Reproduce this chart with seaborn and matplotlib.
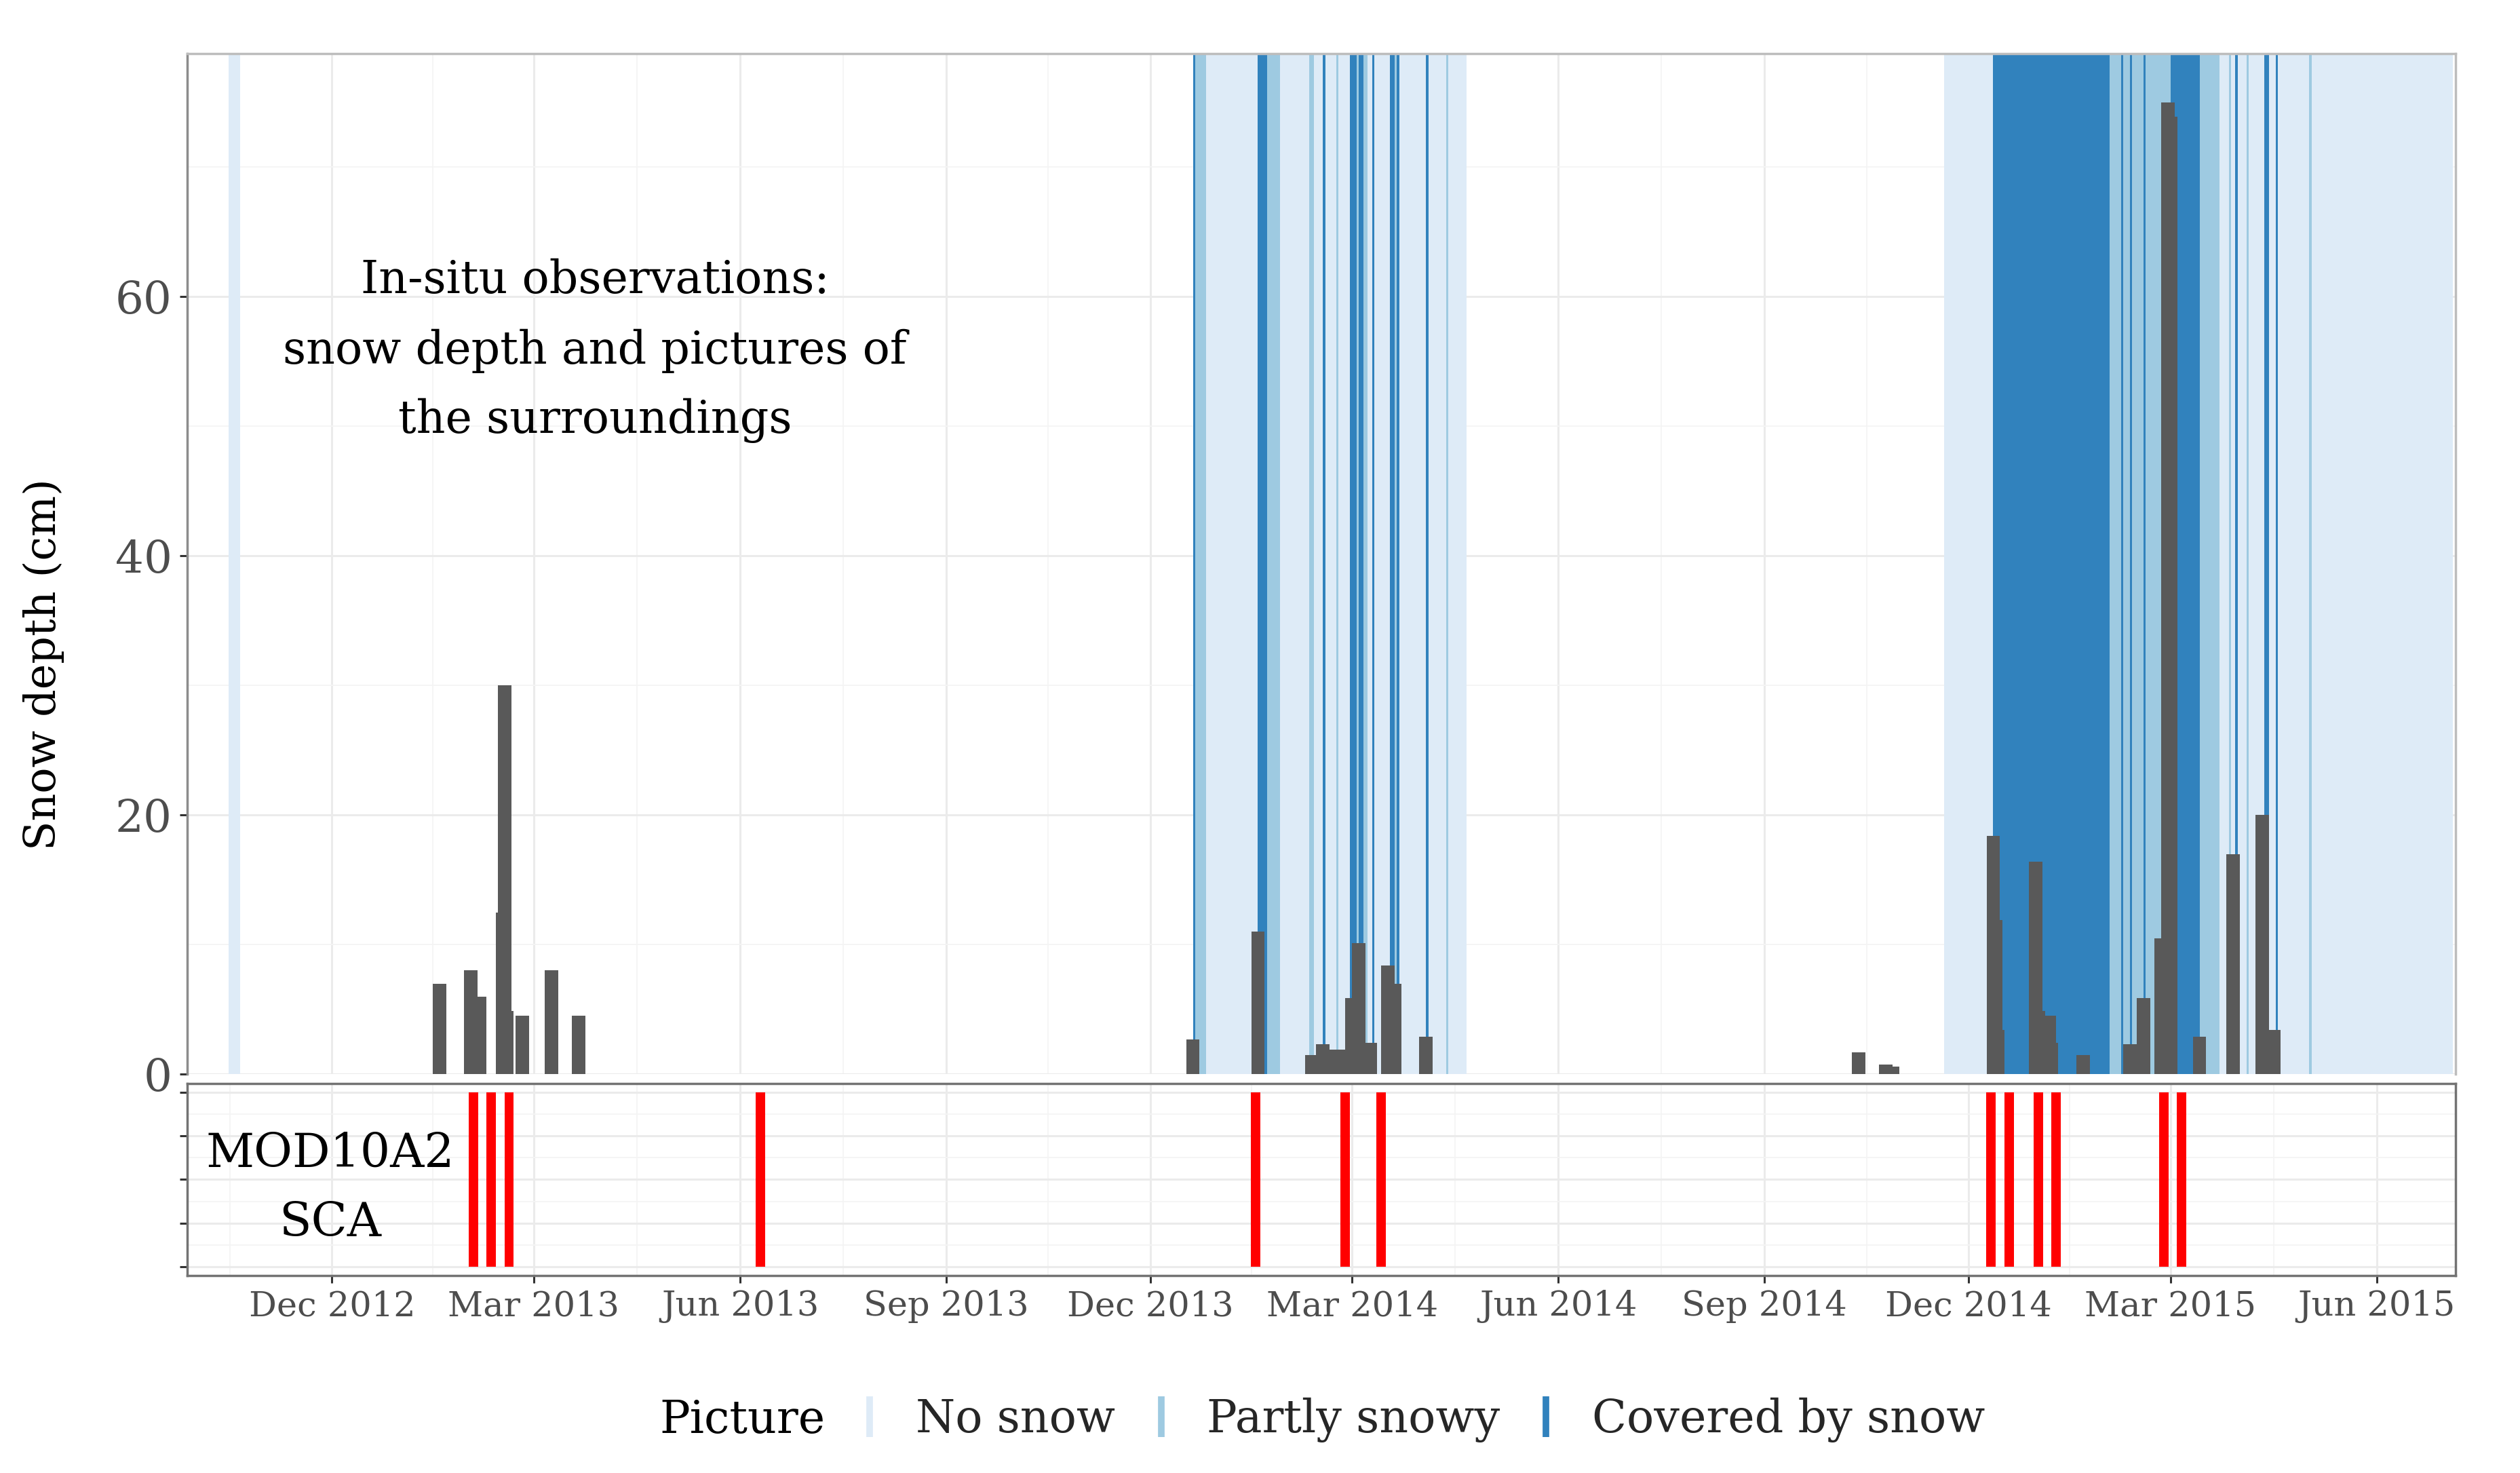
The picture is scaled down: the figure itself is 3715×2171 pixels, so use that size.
import numpy as np
import pandas as pd
import matplotlib
matplotlib.use("Agg")
import matplotlib.pyplot as plt
import matplotlib.dates as mdates
from matplotlib.lines import Line2D
from matplotlib.ticker import FixedLocator
import seaborn as sns

# ---------------- data ----------------
depth_dates = ["2013-01-18", "2013-02-01", "2013-02-05", "2013-02-15", "2013-02-16", "2013-02-17",
               "2013-02-24", "2013-03-09", "2013-03-21",
               "2013-12-20", "2014-01-18", "2014-02-11", "2014-02-16", "2014-02-21", "2014-02-23",
               "2014-03-01", "2014-03-04", "2014-03-09", "2014-03-17", "2014-03-20", "2014-04-03",
               "2014-10-13", "2014-10-25", "2014-10-28",
               "2014-12-12", "2014-12-13", "2014-12-14", "2014-12-31", "2015-01-01", "2015-01-06",
               "2015-01-07", "2015-01-21", "2015-02-11", "2015-02-17", "2015-02-25", "2015-02-28",
               "2015-03-01", "2015-03-14", "2015-03-29", "2015-04-11", "2015-04-16"]
depth_cm = [7, 8, 6, 12.5, 30, 4.9,
            4.5, 8, 4.5,
            2.7, 11, 1.5, 2.3, 1.9, 1.9,
            5.9, 10.1, 2.4, 8.4, 7, 2.9,
            1.7, 0.75, 0.6,
            18.4, 11.9, 3.4, 16.4, 4.9, 4.5,
            2.4, 1.5, 2.3, 5.9, 10.5, 75,
            73.9, 2.9, 17, 20, 3.4]

nosnow_start = ["2012-10-16", "2013-12-20", "2014-11-20"]
nosnow_end = ["2012-10-21", "2014-04-21", "2015-07-05"]

partly_start = ["2013-12-21", "2014-01-22", "2014-02-10", "2014-02-22", "2014-03-03", "2014-03-06",
                "2014-03-20", "2014-04-12", "2015-02-02", "2015-03-27", "2015-04-04", "2015-05-02"]
partly_end = ["2013-12-26", "2014-01-28", "2014-02-12", "2014-02-23", "2014-03-04", "2014-03-08",
              "2014-03-21", "2014-04-13", "2015-03-23", "2015-03-28", "2015-04-05", "2015-05-03"]

covered_start = ["2013-12-20", "2014-01-18", "2014-02-16", "2014-02-28", "2014-03-04", "2014-03-10",
                 "2014-03-18", "2014-03-21", "2014-04-03", "2014-12-12", "2015-02-07", "2015-02-11",
                 "2015-02-17", "2015-03-01", "2015-03-30", "2015-04-12", "2015-04-17"]
covered_end = ["2013-12-21", "2014-01-22", "2014-02-17", "2014-03-03", "2014-03-06", "2014-03-11",
               "2014-03-20", "2014-03-22", "2014-04-04", "2015-02-02", "2015-02-08", "2015-02-12",
               "2015-02-18", "2015-03-14", "2015-03-31", "2015-04-14", "2015-04-18"]

modis_dates = ["2013-02-02", "2013-02-10", "2013-02-18", "2013-06-10", "2014-01-17", "2014-02-26",
               "2014-03-14", "2014-12-11", "2014-12-19", "2015-01-01", "2015-01-09", "2015-02-26",
               "2015-03-06"]

x_tick_dates = ["2012-12-01", "2013-03-01", "2013-06-01", "2013-09-01", "2013-12-01", "2014-03-01",
                "2014-06-01", "2014-09-01", "2014-12-01", "2015-03-01", "2015-06-01"]
x_tick_labels = ["Dec 2012", "Mar 2013", "Jun 2013", "Sep 2013", "Dec 2013", "Mar 2014",
                 "Jun 2014", "Sep 2014", "Dec 2014", "Mar 2015", "Jun 2015"]
x_limits = ["2012-09-27 10:00", "2015-07-06 05:00"]
y_ticks = [0, 20, 40, 60]
y_minor = [10, 30, 50, 70]

categories = ["No snow", "Partly snowy", "Covered by snow"]
cat_colors = ["#deebf7", "#9ecae1", "#3182bd"]

BAR_WIDTH_DAYS = 6
MODIS_WIDTH_DAYS = 4.2


def dnum(lst):
    return mdates.date2num(pd.to_datetime(lst).values)


# ---------------- style ----------------
sns.set_theme(style="whitegrid")
plt.rcParams["font.family"] = ["DejaVu Serif"]

fig = plt.figure(figsize=(37.16, 21.71), dpi=100)
ax = fig.add_axes([0.07427, 0.2707, 0.8999, 0.6929])
ax2 = fig.add_axes([0.07427, 0.1340, 0.8999, 0.1305])

# picture classification spans
for starts, ends, col in [(nosnow_start, nosnow_end, cat_colors[0]),
                          (partly_start, partly_end, cat_colors[1]),
                          (covered_start, covered_end, cat_colors[2])]:
    for s, e in zip(dnum(starts), dnum(ends)):
        ax.axvspan(s, e, color=col, lw=0, zorder=1)

# snow depth bars
df = pd.DataFrame({"date": dnum(depth_dates), "depth": depth_cm})
sns.barplot(data=df, x="date", y="depth", native_scale=True, orient="x",
            width=BAR_WIDTH_DAYS, color="#595959", saturation=1, errorbar=None,
            linewidth=0, ax=ax, zorder=3)
ax.set_xlabel("")
ax.set_ylabel("")

# MODIS snow cover lines
ax2.bar(dnum(modis_dates), height=1, width=MODIS_WIDTH_DAYS, bottom=0,
        color="#ff0000", lw=0, zorder=3)

# ---------------- axes ----------------
xl = dnum(x_limits)
major_x = dnum(x_tick_dates)
ext = dnum(["2012-09-01"] + x_tick_dates + ["2015-09-01"])
minor_x = (ext[:-1] + ext[1:]) / 2

for a in (ax, ax2):
    a.set_xlim(xl[0], xl[1])
    a.set_xticks(major_x)
    a.xaxis.set_minor_locator(FixedLocator(minor_x))
    a.set_axisbelow(True)
    a.grid(True, which="major", color="#ebebeb", lw=2.2)
    a.grid(True, which="minor", color="#f4f4f4", lw=1.3)
    a.tick_params(which="minor", length=0)

ax.set_ylim(0, 78.75)
ax.set_yticks(y_ticks)
ax.yaxis.set_minor_locator(FixedLocator(y_minor))
ax.set_yticklabels([str(v) for v in y_ticks])
ax.tick_params(axis="y", which="major", left=True, length=8, width=2.2, color="#333333",
               labelsize=47.5, labelcolor="#4d4d4d", pad=8)
ax.tick_params(axis="x", which="both", length=0, labelbottom=False)

ax2.set_ylim(-0.05, 1.05)
ax2.set_yticks([0, 0.25, 0.5, 0.75, 1])
ax2.yaxis.set_minor_locator(FixedLocator([0.125, 0.375, 0.625, 0.875]))
ax2.set_yticklabels([])
ax2.tick_params(axis="y", which="major", left=True, length=8, width=2.2, color="#333333")
ax2.set_xticklabels(x_tick_labels)
ax2.tick_params(axis="x", which="major", bottom=True, length=8, width=2.2, color="#333333",
                labelsize=36.7, labelcolor="#4d4d4d", pad=7)

ax.spines["bottom"].set_visible(False)
ax.spines["left"].set_color("#8c8c8c")
ax.spines["left"].set_linewidth(2.5)
for sp in ("top", "right"):
    ax.spines[sp].set_color("#bdbdbd")
    ax.spines[sp].set_linewidth(2.5)
for sp in ax2.spines.values():
    sp.set_color("#737373")
    sp.set_linewidth(2.5)

# ---------------- texts ----------------
insitu_lines = ["In-situ observations:", "snow depth and pictures of", "the surroundings"]
for txt, yb in zip(insitu_lines, [0.7653, 0.6962, 0.6284]):
    ax.text(0.1797, yb, txt, transform=ax.transAxes, ha="center", va="baseline",
            fontsize=48, color="black", zorder=5)

for txt, yb in zip(["MOD10A2", "SCA"], [0.5646, 0.2047]):
    ax2.text(0.0631, yb, txt, transform=ax2.transAxes, ha="center", va="baseline",
             fontsize=50, color="black", zorder=5)

fig.text(0.0172, 0.549, "Snow depth (cm)", rotation=90, ha="center", va="center",
         fontsize=45.7, color="black")

# ---------------- legend ----------------
fig.text(972 / 3716, 1 - 2112 / 2171, "Picture", ha="left", va="baseline", fontsize=48, color="black")
handles = [Line2D([0], [0], color=c, marker="|", linestyle="none", markersize=43,
                  markeredgewidth=7) for c in cat_colors]
fig.legend(handles, categories, loc="center left", bbox_to_anchor=(1249 / 3716, 0.0359),
           ncol=3, frameon=False, fontsize=48, handlelength=1.0, handletextpad=0.51,
           columnspacing=0.52, borderpad=0, borderaxespad=0)

fig.savefig("out.png", dpi=100)
